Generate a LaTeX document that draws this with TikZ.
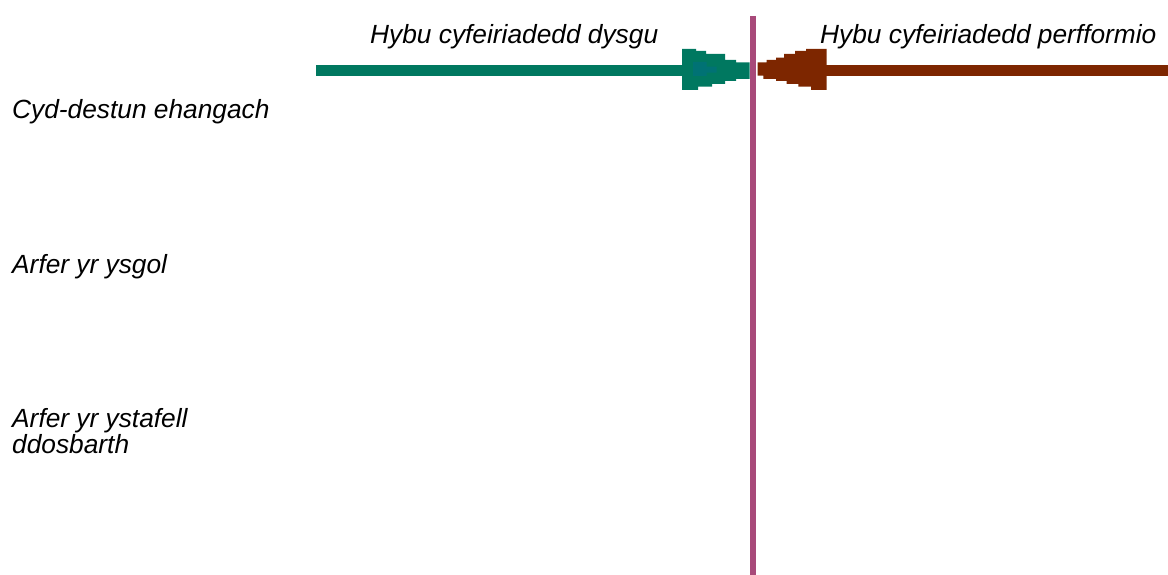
\documentclass[tikz,border=0pt]{standalone}
\usepackage{fontspec}
\setmainfont{Liberation Sans}
\definecolor{arrgreen}{RGB}{0,120,96}
\definecolor{arrteal}{RGB}{0,114,116}
\definecolor{arrbrown}{RGB}{125,38,0}
\definecolor{divider}{RGB}{168,74,122}
\tikzset{
  lbl/.style={anchor=base west, inner sep=0pt, font=\fontsize{26.3}{26}\selectfont\itshape, align=left},
}
\begin{document}
\begin{tikzpicture}[x=1pt,y=-1pt]
\useasboundingbox (0,0) rectangle (1168,575);
% labels
\node[lbl] (learn) at (370,43.5) {Hybu cyfeiriadedd dysgu};
\node[lbl] (perf) at (820,43.5) {Hybu cyfeiriadedd perfformio};
\node[lbl] (wide) at (12,118.5) {Cyd-destun ehangach};
\node[lbl] (school) at (12,273) {Arfer yr ysgol};
\node[lbl] (class) at (12,453) {Arfer yr ystafell\\[0pt]ddosbarth};
% green arrow
\fill[arrgreen] (316,65) rectangle (690,76);
\fill[arrgreen] (682,49) -- (696,49) -- (696,51) -- (706,51) -- (706,54) -- (725,54) -- (725,60) -- (736,60) -- (736,62.3) -- (749.5,62.3)
  -- (749.5,79) -- (736,79) -- (736,81) -- (725,81) -- (725,84) -- (712,84) -- (712,86.7) -- (698,86.7) -- (698,90) -- (682,90) -- cycle;
\fill[arrteal] (693,62) -- (706.7,62) -- (706.7,66.7) -- (716.7,66.7) -- (716.7,72.7) -- (706.7,72.7) -- (706.7,76) -- (693,76) -- cycle;
% brown arrow
\fill[arrbrown] (820,65) rectangle (1168,75.7);
\fill[arrbrown] (757.7,62.3) -- (766.7,62.3) -- (766.7,60) -- (776,60) -- (776,57.7) -- (784,57.7) -- (784,54) -- (795,54) -- (795,51) -- (806,51) -- (806,49) -- (826.7,49)
  -- (826.7,90) -- (811,90) -- (811,86.7) -- (798.3,86.7) -- (798.3,84) -- (786.7,84) -- (786.7,81) -- (776,81) -- (776,79) -- (763.3,79) -- (763.3,75.7) -- (757.7,75.7) -- cycle;
% divider
\coordinate (dtop) at (753,16);
\coordinate (dbot) at (753,575);
\draw[divider, line width=6pt] (dtop) -- (dbot);
\end{tikzpicture}
\end{document}
